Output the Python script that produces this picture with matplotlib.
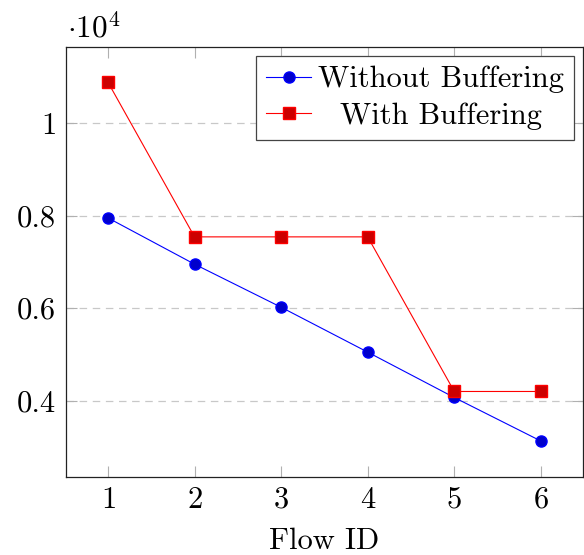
import numpy as np
import matplotlib
matplotlib.use('Agg')
import matplotlib.pyplot as plt
from matplotlib.ticker import FuncFormatter

plt.rcParams['font.family'] = 'cmr10'
plt.rcParams['mathtext.fontset'] = 'cm'
plt.rcParams['axes.formatter.use_mathtext'] = True

# data
flow_id = [1, 2, 3, 4, 5, 6]
without_buf = [7950, 6950, 6020, 5050, 4070, 3130]
with_buf = [10880, 7540, 7540, 7540, 4200, 4200]
y_ticks = [4000, 6000, 8000, 10000]

fig = plt.figure(figsize=(5.84, 5.55), dpi=100)
ax = fig.add_axes([0.113, 0.141, 0.885, 0.775])

ax.plot(flow_id, without_buf, color='blue', lw=0.8, marker='o', ms=8,
        mfc=(0, 0, 0.8), mec='blue', label='Without Buffering')
ax.plot(flow_id, with_buf, color='red', lw=0.8, marker='s', ms=8,
        mfc=(0.8, 0, 0), mec='red', label='With Buffering')

ax.set_xlim(0.515, 6.485)
ax.set_ylim(2358, 11650)
ax.set_xticks(flow_id)
ax.set_yticks(y_ticks)
ax.yaxis.set_major_formatter(FuncFormatter(lambda v, p: f'{v/1e4:g}'))
ax.tick_params(direction='in', top=True, right=True, length=8, width=0.8,
               color='#b0b0b0', labelsize=22, pad=7)
ax.grid(axis='y', linestyle=(0, (6, 4.5)), color='#c8c8c8', lw=0.9)
for s in ax.spines.values():
    s.set_linewidth(0.9)
    s.set_color('#222222')

ax.set_xlabel('Flow ID', fontsize=22, labelpad=10)
fig.text(0.114, 0.932, r'$\cdot 10^4$', fontsize=22.5, ha='left', va='baseline')

leg = ax.legend(loc='upper right', fontsize=22, fancybox=False,
                edgecolor='#444444', framealpha=1, borderaxespad=0.3,
                handlelength=1.5, handletextpad=0.2, borderpad=0.33,
                labelspacing=0.3)
leg.get_frame().set_linewidth(0.9)

# centre legend labels like pgfplots does
fig.canvas.draw()
r = fig.canvas.get_renderer()
widths = [t.get_window_extent(r).width for t in leg.get_texts()]
wmax = max(widths)
for t, w in zip(leg.get_texts(), widths):
    t.set_position(((wmax - w) / 2, 0))

plt.savefig('out.png', dpi=100)
